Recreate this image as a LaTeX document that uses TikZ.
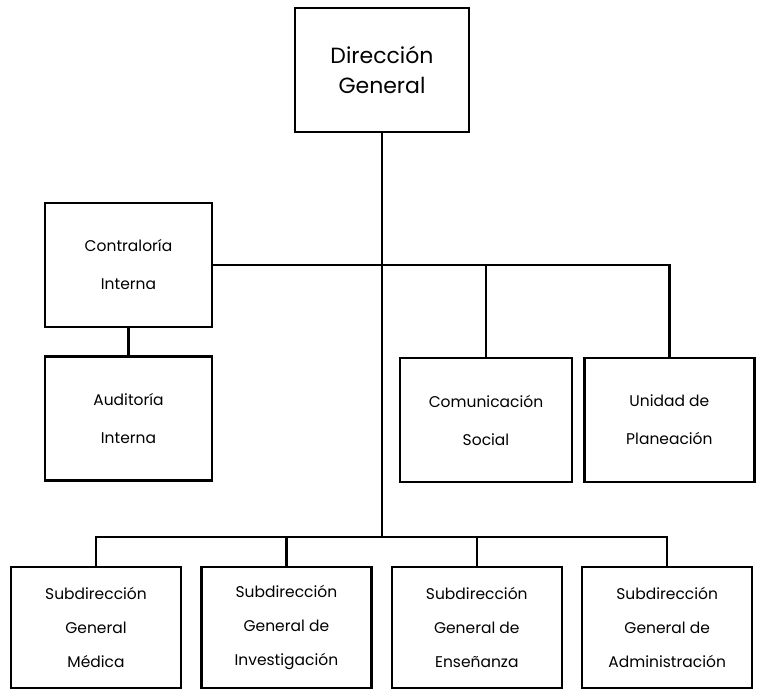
\documentclass[tikz,border=0pt]{standalone}
\usepackage{fontspec}
\setmainfont{Poppins}
\usetikzlibrary{positioning}

\begin{document}
\begin{tikzpicture}
	[ x=1pt, y=-1pt,
		node distance=27pt and 18pt,
		unit/.style={rectangle,draw,line width=2.4pt,align=center,minimum width=170pt,minimum height=124pt,font=\fontsize{15.5}{38}\selectfont},
		lowunit/.style={unit,minimum height=121pt,font=\fontsize{15.5}{34}\selectfont},
		link/.style={line width=2.4pt}]

	\useasboundingbox (0,0) rectangle (758,695);

	\node[unit,minimum width=174pt,font=\fontsize{22}{30}\selectfont] (direccion) at (382,70) {Dirección\\General};

	\node[unit,minimum width=167pt] (contraloria) at (128.5,265) {Contraloría\\Interna};
	\node[unit,minimum width=167pt] (auditoria) [below=of contraloria] {Auditoría\\Interna};

	\node[unit,minimum width=172pt] (comunicacion) at (486,420) {Comunicación\\Social};
	\node[unit,node distance=27pt and 10pt] (unidad) [right=of comunicacion] {Unidad de\\Planeación};

	\node[lowunit] (medica) at (96,627.5) {Subdirección\\General\\Médica};
	\node[lowunit] (investigacion) [right=of medica] {Subdirección\\General de\\Investigación};
	\node[lowunit] (ensenanza) [right=of investigacion] {Subdirección\\General de\\Enseñanza};
	\node[lowunit] (administracion) [right=of ensenanza] {Subdirección\\General de\\Administración};

	\draw[link] (contraloria.east) -| (unidad.north);
	\draw[link] (comunicacion.north) -- (comunicacion.north |- contraloria.east);
	\draw[link] (contraloria) -- (auditoria);

	\draw[link] (medica.north) -- ++(0,-29) -| (administracion.north);
	\draw[link] (investigacion.north) -- ++(0,-29);
	\draw[link] (ensenanza.north) -- ++(0,-29);
	\draw[link] (direccion.south) -- ([yshift=29pt]direccion.south |- medica.north);
\end{tikzpicture}
\end{document}
